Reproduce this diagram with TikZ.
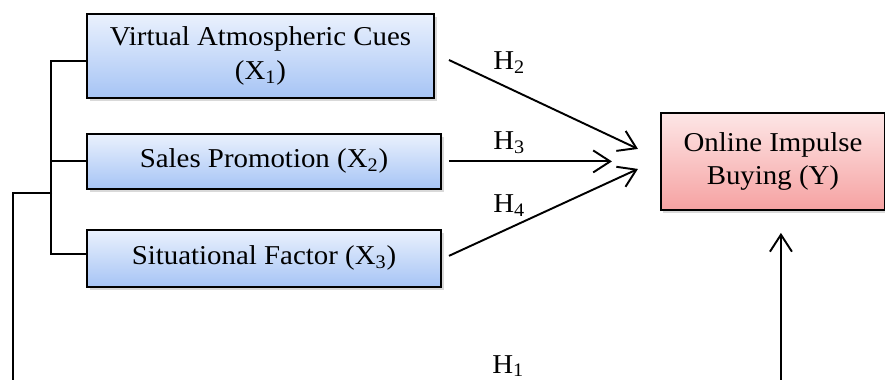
\documentclass[tikz,border=0pt]{standalone}
\usepackage{fontspec}
\setmainfont{Liberation Serif}[FakeStretch=1.06]
\usepackage{tikz}
\usetikzlibrary{arrows.meta,positioning,shadows}
\definecolor{factortop}{HTML}{EAF1FD}
\definecolor{factorbottom}{HTML}{A6C4F5}
\definecolor{outcometop}{HTML}{FDE6E6}
\definecolor{outcomebottom}{HTML}{F6A2A2}
\tikzset{
  factor/.style={draw=black,line width=1.1pt,top color=factortop,bottom color=factorbottom,align=center,inner sep=0pt,
    font=\fontsize{15.5pt}{19pt}\selectfont,drop shadow={shadow xshift=.05cm,shadow yshift=-.06cm,opacity=.3}},
  outcome/.style={factor,top color=outcometop,bottom color=outcomebottom},
  hyp/.style={anchor=base west,inner sep=0pt,font=\fontsize{15.5pt}{18pt}\selectfont},
  flow/.style={-{Straight Barb[length=3.4mm,width=4.4mm]},line width=1.1pt},
  tie/.style={line width=1.1pt},
}

\begin{document}
\begin{tikzpicture}
    \useasboundingbox (0,0) rectangle (17.7,-7.6);
    \clip (0,0) rectangle (17.7,-7.6);
    \node[factor,minimum width=6.94cm,minimum height=1.68cm] (x1) at (5.21,-1.12) {Virtual Atmospheric Cues\\(X\textsubscript{1})};
    \node[factor,minimum width=7.08cm,minimum height=1.1cm,below=.68cm of x1.south west,anchor=north west] (x2) {Sales Promotion (X\textsubscript{2})};
    \node[factor,minimum width=7.08cm,minimum height=1.14cm,below=.78cm of x2.south west,anchor=north west] (x3) {Situational Factor (X\textsubscript{3})};
    \node[outcome,minimum width=4.48cm,minimum height=1.94cm,right=4.36cm of x2] (y) {Online Impulse\\Buying (Y)};
    % bracket joining the three factors
    \draw[tie] ([yshift=-.1cm]x1.west) -- ++(-.71,0) |- ([yshift=.09cm]x3.west);
    \draw[tie] (x2.west) -- ++(-.71,0);
    \coordinate (hub) at (1.04,-3.86);
    % partial paths
    \draw[flow] ([xshift=.28cm,yshift=-.08cm]x1.east) -- ([xshift=-.44cm,yshift=.25cm]y.west);
    \draw[flow] ([xshift=.14cm]x2.east) -- ([xshift=-.96cm]y.west);
    \draw[flow] ([xshift=.14cm,yshift=.05cm]x3.east) -- ([xshift=-.44cm,yshift=-.15cm]y.west);
    % simultaneous path
    \draw[flow,shorten >=.44cm] (hub) -| (.26,-7.85) -| ([xshift=.16cm]y.south);
    \node[hyp] (h2) at (9.86,-1.40) {H\textsubscript{2}};
    \node[hyp] (h3) at (9.86,-3.00) {H\textsubscript{3}};
    \node[hyp] (h4) at (9.86,-4.26) {H\textsubscript{4}};
    \node[hyp] (h1) at (9.84,-7.46) {H\textsubscript{1}};
  \end{tikzpicture}
\end{document}
